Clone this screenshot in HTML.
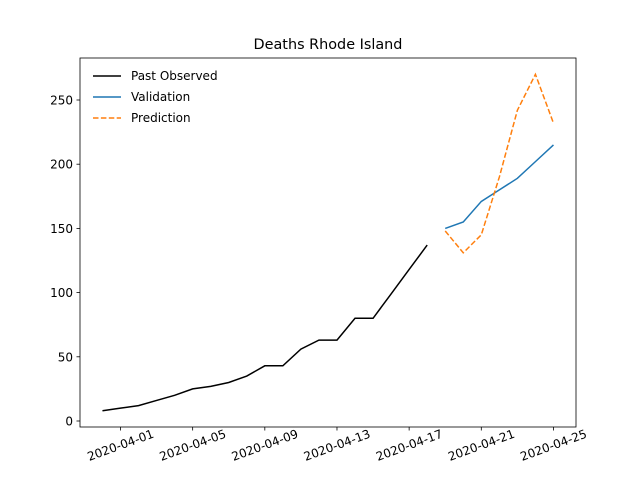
<!DOCTYPE html>
<html><head><meta charset="utf-8"><style>body{margin:0;background:#fff}svg{font-family:"DejaVu Sans","Liberation Sans",sans-serif}</style></head>
<body>
<svg id="chart" width="640" height="480" xmlns="http://www.w3.org/2000/svg">
<rect width="640" height="480" fill="#fff"/>
<text x="328" y="49" text-anchor="middle" font-size="14.4">Deaths Rhode Island</text>
<g id="axes"></g>
<g id="series"></g>
<rect x="80" y="58" width="496" height="369" fill="none" stroke="#000" stroke-width="0.8"/>
<g font-size="12">
<line x1="93" y1="76" x2="121" y2="76" stroke="#000" stroke-width="1.5"/>
<text x="131" y="80">Past Observed</text>
<line x1="93" y1="97" x2="121" y2="97" stroke="#1f77b4" stroke-width="1.5"/>
<text x="131" y="101">Validation</text>
<line x1="93" y1="118" x2="121" y2="118" stroke="#ff7f0e" stroke-width="1.5" stroke-dasharray="5.5,2.4"/>
<text x="131" y="122">Prediction</text>
</g>
</svg>
<script>
const pastValues=[8,10,12,16,20,25,27,30,35,43,43,56,63,63,80,80,99,118,137];
const validationValues=[150,155,171,180,189,202,215];
const predictionValues=[148,131,145,190,242,270,232];
const yTicks=[0,50,100,150,200,250];
const xTickLabels=["2020-04-01","2020-04-05","2020-04-09","2020-04-13","2020-04-17","2020-04-21","2020-04-25"];
const pastStartDay=-1, futureStartDay=18;
const xTickDays=[0,4,8,12,16,20,24];
const NS="http://www.w3.org/2000/svg";
const xs=d=>120.5+d*18.04;
const ys=v=>421-v*1.284;
const axes=document.getElementById('axes'), series=document.getElementById('series');
function mk(t,a,p){const e=document.createElementNS(NS,t);for(const k in a)e.setAttribute(k,a[k]);p.appendChild(e);return e;}
yTicks.forEach(v=>{
 const l=mk('line',{x1:76.5,x2:80,y1:ys(v),y2:ys(v),stroke:'#000','stroke-width':0.8},axes);
 
 
 const t=mk('text',{x:73,y:ys(v)+4.5,'text-anchor':'end','font-size':12},axes);t.textContent=v;
 
 
});
xTickDays.forEach((d,i)=>{
 const x=xs(d);
 const l=mk('line',{x1:x,x2:x,y1:427,y2:430.5,stroke:'#000','stroke-width':0.8},axes);
 
 
 const t=mk('text',{x:0,y:4.3,'text-anchor':'middle','font-size':12,transform:`translate(${x},445) rotate(-20)`},axes);t.textContent=xTickLabels[i];
 
 
});
function line(vals,start,color,dash,name){
 const pts=vals.map((v,i)=>xs(start+i)+','+ys(v)).join(' ');
 const p=mk('polyline',{points:pts,fill:'none',stroke:color,'stroke-width':1.5},series);
 if(dash)p.setAttribute('stroke-dasharray',dash);
 
 
}
line(pastValues,pastStartDay,'#000',null,'past-observed-line');
line(validationValues,futureStartDay,'#1f77b4',null,'validation-line');
line(predictionValues,futureStartDay,'#ff7f0e','5.5,2.4','prediction-line');
</script>
</body></html>
